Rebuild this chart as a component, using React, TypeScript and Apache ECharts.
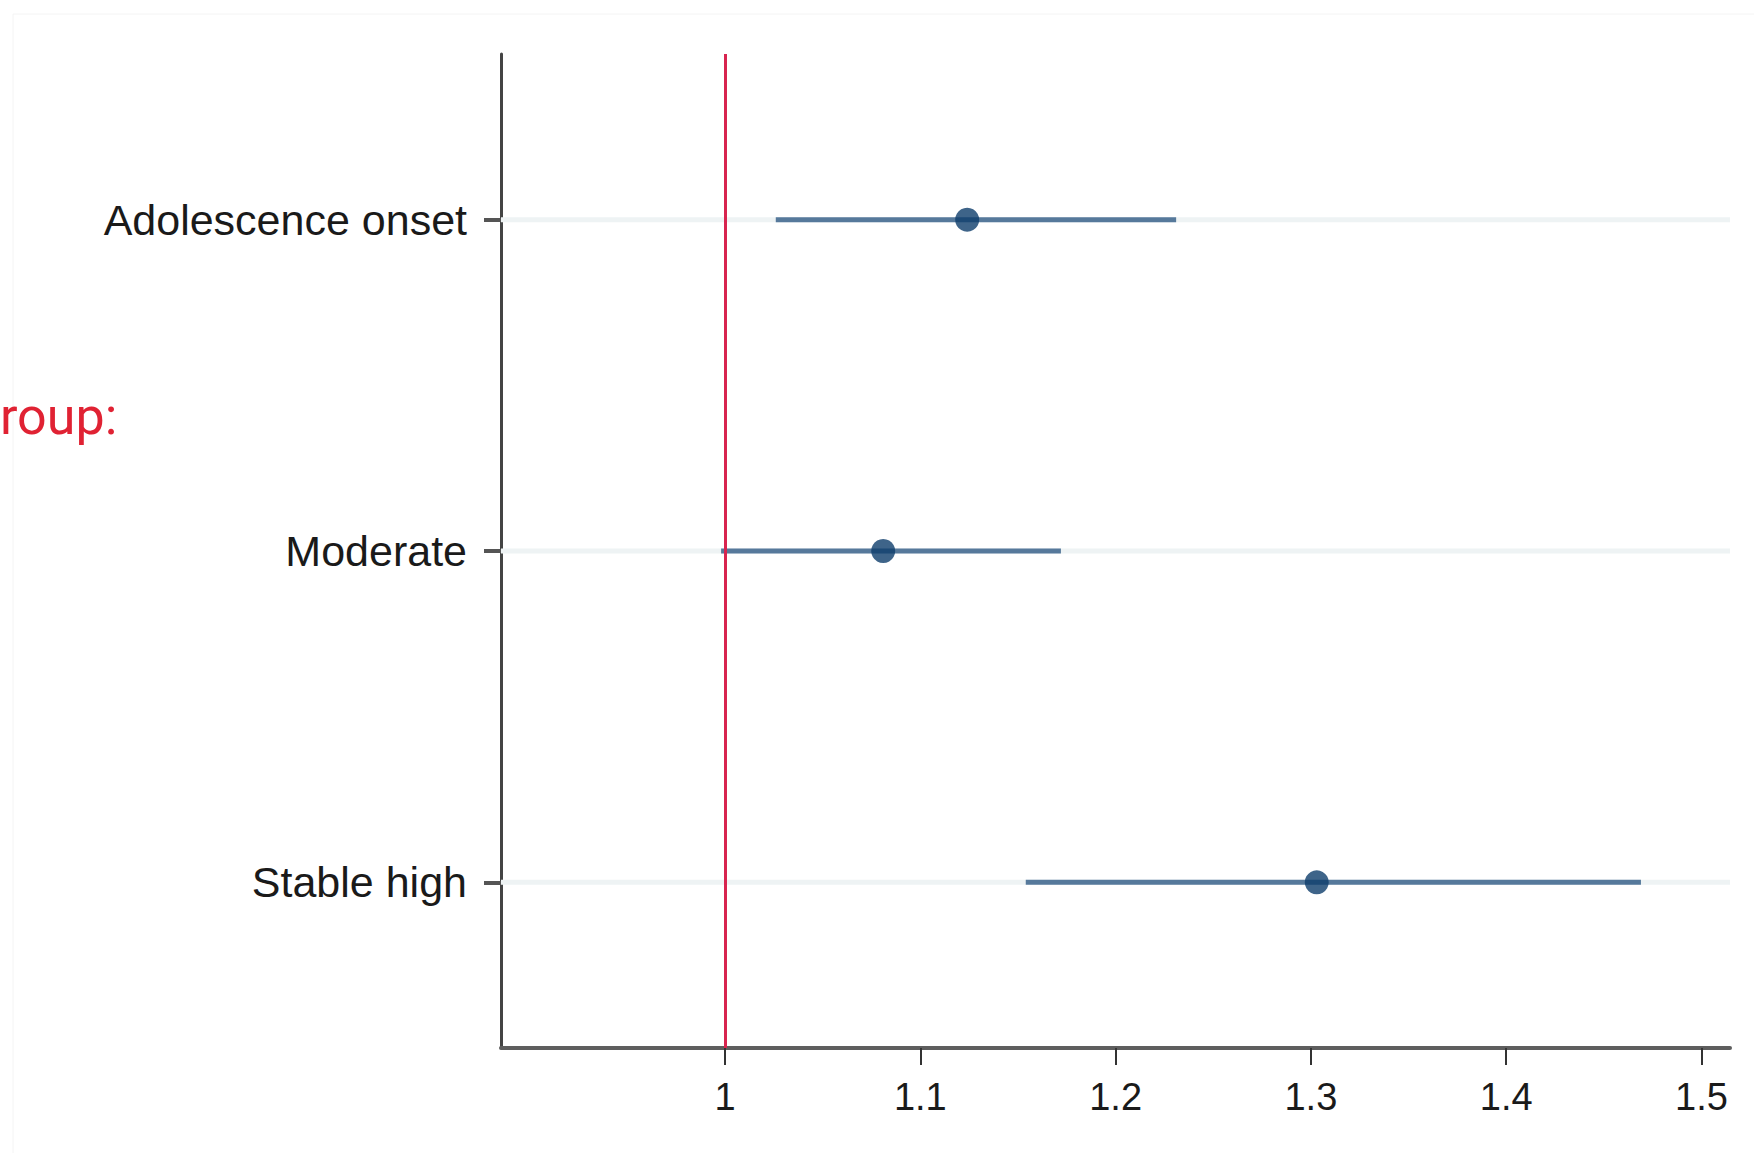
import React, { useEffect, useRef } from "react";
import * as echarts from "echarts";

const categories = ["Adolescence onset", "Moderate", "Stable high"];
const estimates = [1.124, 1.081, 1.303];
const lowerCI = [1.026, 0.998, 1.154];
const upperCI = [1.231, 1.172, 1.469];
const xTicks = [1, 1.1, 1.2, 1.3, 1.4, 1.5];
const xMin = 0.8853;
const xMax = 1.5146;
const refValue = 1;

export default function App() {
  const ref = useRef<HTMLDivElement>(null);
  useEffect(() => {
    document.body.style.margin = "0";
    const chart = echarts.init(ref.current!, null, { renderer: "svg" });
    const font = "'Liberation Sans', Arial, sans-serif";
    chart.setOption({
      animation: false,
      backgroundColor: "#ffffff",
      grid: { left: 501, right: 24, top: 54, bottom: 105, containLabel: false },
      xAxis: {
        type: "value",
        min: xMin,
        max: xMax,
        splitLine: { show: false },
        axisLine: { show: true, onZero: false, lineStyle: { color: "#5e5e5e", width: 4 } },
        axisTick: {
          show: true,
          customValues: xTicks,
          length: 17,
          lineStyle: { color: "#333", width: 2 },
        },
        axisLabel: {
          customValues: xTicks,
          formatter: (v: number) => String(+v.toFixed(1)),
          fontFamily: font,
          fontSize: 38,
          color: "#1a1a1a",
          margin: 30,
        },
      },
      yAxis: {
        type: "category",
        data: categories,
        inverse: true,
        boundaryGap: true,
        axisLine: { show: true, lineStyle: { color: "#444", width: 3 } },
        axisTick: { show: true, alignWithLabel: true, length: 17, lineStyle: { color: "#555", width: 4 } },
        splitLine: { show: false },
        axisLabel: {
          fontFamily: font,
          fontSize: 43,
          color: "#1a1a1a",
          margin: 34,
        },
      },
      series: [
        {
          type: "custom",
          name: "grid",
          silent: true,
          z: 1,
          data: categories.map((_, i) => [xMin, i, xMax]),
          renderItem: (params: any, api: any) => {
            const a = api.coord([api.value(0), api.value(1)]);
            const b = api.coord([api.value(2), api.value(1)]);
            return {
              type: "line",
              shape: { x1: a[0], y1: a[1], x2: b[0], y2: b[1] },
              style: { stroke: "#eef3f4", lineWidth: 5 },
            };
          },
        },
        {
          type: "custom",
          name: "CI",
          z: 3,
          data: categories.map((_, i) => [lowerCI[i], i, upperCI[i]]),
          renderItem: (params: any, api: any) => {
            const a = api.coord([api.value(0), api.value(1)]);
            const b = api.coord([api.value(2), api.value(1)]);
            return {
              type: "line",
              shape: { x1: a[0], y1: a[1], x2: b[0], y2: b[1] },
              style: { stroke: "#56799b", lineWidth: 5 },
            };
          },
        },
        {
          type: "scatter",
          name: "Estimate",
          z: 5,
          symbol: "circle",
          symbolSize: 24,
          itemStyle: { color: "#0e3d6c" },
          data: categories.map((c, i) => [estimates[i], c]),
          markLine: {
            silent: true,
            symbol: "none",
            label: { show: false },
            lineStyle: { color: "#d8244f", width: 3, type: "solid" },
            data: [{ xAxis: refValue }],
          },
        },
      ],
      graphic: [
        {
          type: "rect",
          shape: { x: 13, y: 14, width: 1760, height: 1200 },
          style: { fill: "none", stroke: "#f4f4f4", lineWidth: 1 },
          silent: true,
        },
        {
          type: "text",
          x: 0,
          y: 416,
          style: {
            text: "roup:",
            fontFamily: "Roboto, 'Noto Sans', sans-serif",
            fontSize: 52,
            fill: "#e02233",
            verticalAlign: "middle",
            align: "left",
          },
        },
      ],
    });
    return () => chart.dispose();
  }, []);
  return <div ref={ref} style={{ position: "fixed", left: 0, top: 0, width: 1754, height: 1153 }} />;
}
